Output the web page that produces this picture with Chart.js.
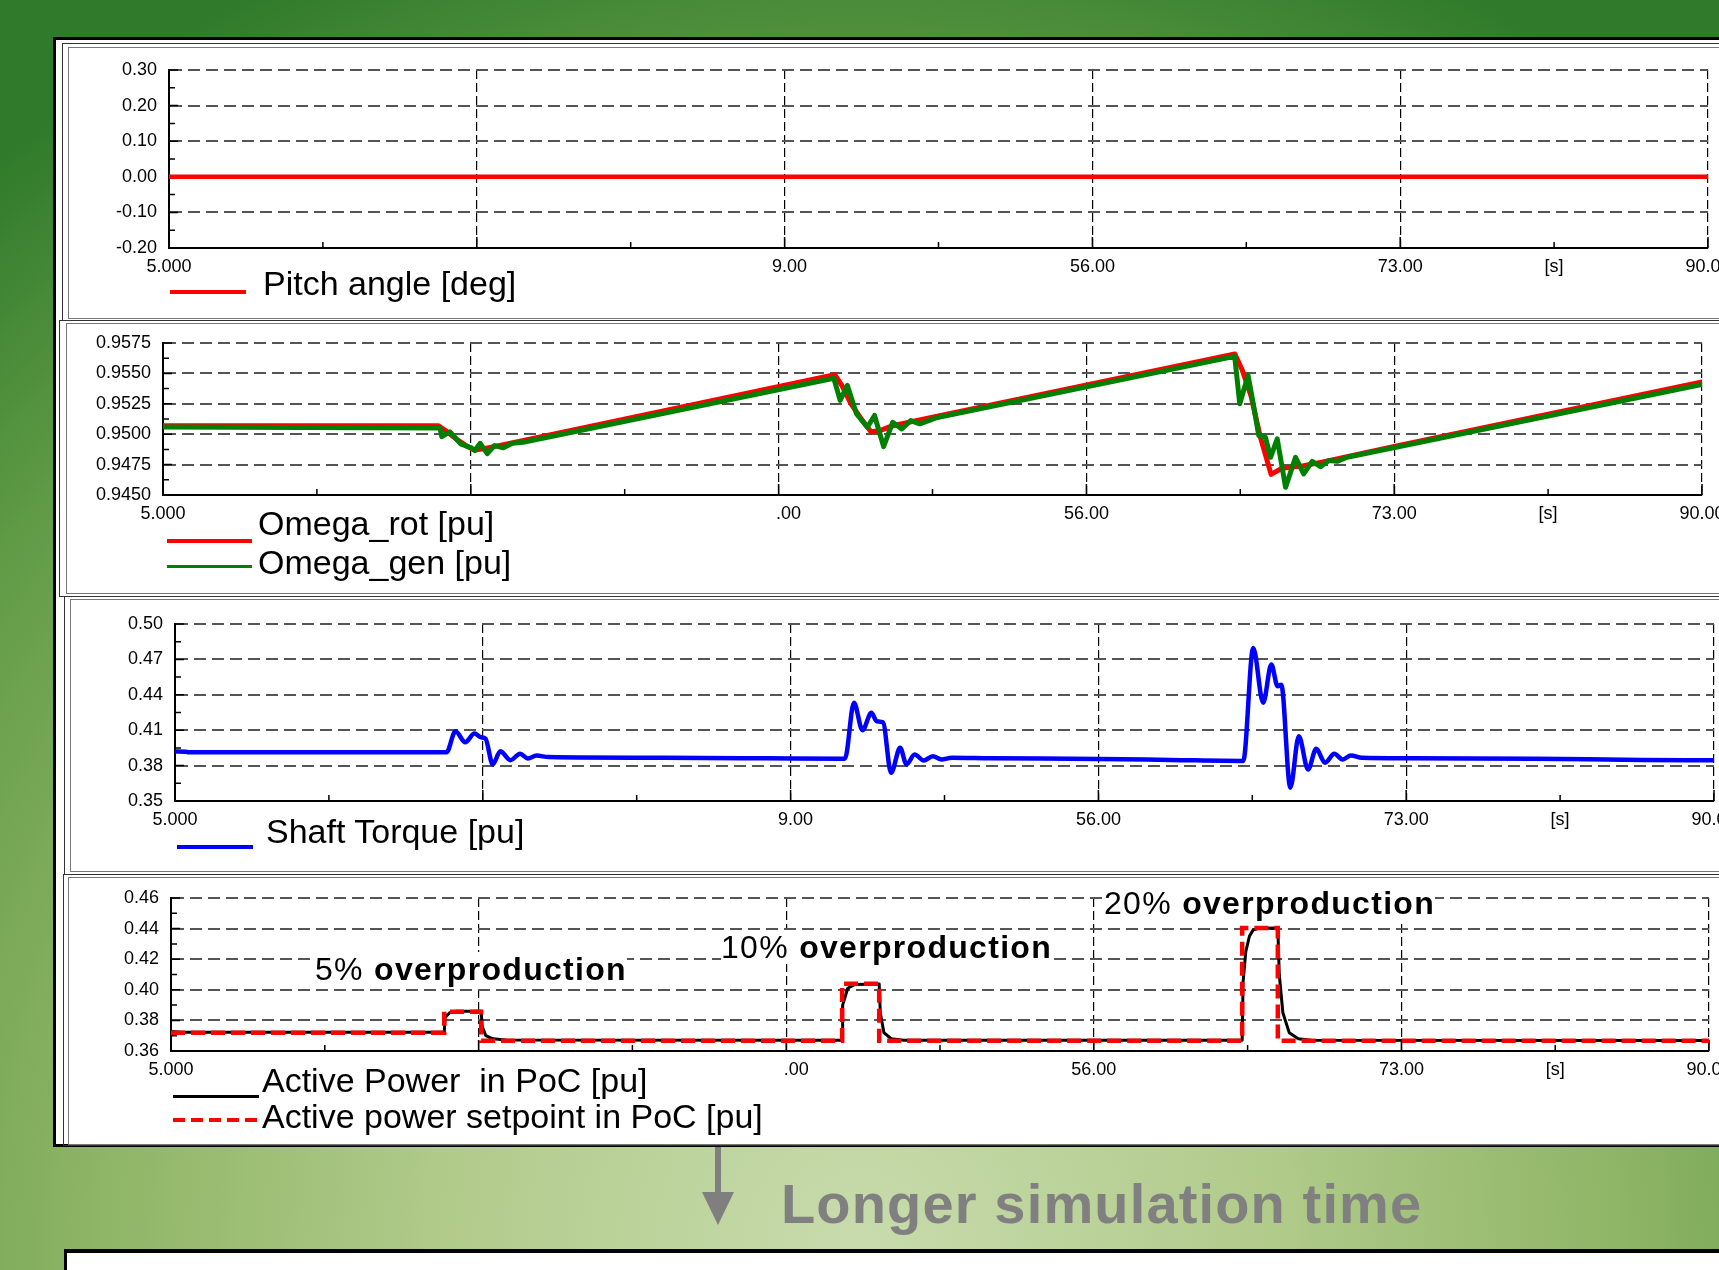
<!DOCTYPE html>
<html>
<head>
<meta charset="utf-8">
<script src="https://cdn.jsdelivr.net/npm/chart.js@4"></script>
<style>
  html, body { margin: 0; padding: 0; }
  body {
    width: 1719px; height: 1270px; overflow: hidden; position: relative;
    background: radial-gradient(ellipse 80% 110% at 50% 98%, #c8dbad 0%, #b1cb8b 30%, #8fb566 55%, #5f9a45 80%, #2f7a2b 100%);
    font-family: 'Liberation Sans', Arial, sans-serif;
  }
  .box { position: absolute; box-sizing: border-box; }
  canvas { position: absolute; left: 0; }
  .leg { position: absolute; font-size: 34px; line-height: 34px; white-space: pre; color: #000; }
  .key { position: absolute; }
  .note { position: absolute; font-size: 32px; line-height: 34px; white-space: pre; background: #fff; letter-spacing: 1.3px; color: #000; }
</style>
</head>
<body>

<!-- slide frame -->
<div class="box" style="left:53px;top:37px;width:1700px;height:1110px;border:3px solid #000;background:#fff"></div>
<div class="box" style="left:62px;top:43px;width:1700px;height:278px;border:1px solid #333"></div>
<div class="box" style="left:68px;top:47px;width:1700px;height:272px;border:1px solid #777"></div>
<div class="box" style="left:59px;top:320px;width:1700px;height:277px;border:1px solid #333"></div>
<div class="box" style="left:66px;top:323px;width:1700px;height:271px;border:1px solid #777"></div>
<div class="box" style="left:64px;top:596px;width:1700px;height:279px;border:1px solid #333"></div>
<div class="box" style="left:70px;top:599px;width:1700px;height:273px;border:1px solid #777"></div>
<div class="box" style="left:63px;top:874px;width:1700px;height:272px;border:1px solid #333"></div>
<div class="box" style="left:68px;top:877px;width:1700px;height:268px;border:1px solid #777"></div>

<canvas id="pitch" width="1719" height="238" style="top:50px"></canvas>
<canvas id="omega" width="1719" height="212" style="top:323px"></canvas>
<canvas id="torque" width="1719" height="237" style="top:604px"></canvas>
<canvas id="power" width="1719" height="213" style="top:878px"></canvas>

<!-- legends -->
<div class="key" style="left:170px;top:290px;width:76px;height:4px;background:#f00"></div>
<div class="leg" style="left:263px;top:266px">Pitch angle [deg]</div>

<div class="key" style="left:167px;top:539px;width:85px;height:4px;background:#f00"></div>
<div class="leg" style="left:258px;top:506px">Omega_rot [pu]</div>
<div class="key" style="left:167px;top:565px;width:85px;height:3px;background:#008000"></div>
<div class="leg" style="left:258px;top:545px">Omega_gen [pu]</div>

<div class="key" style="left:177px;top:845px;width:76px;height:4px;background:#00f"></div>
<div class="leg" style="left:266px;top:814px">Shaft Torque [pu]</div>

<div class="key" style="left:173px;top:1095px;width:86px;height:3px;background:#000"></div>
<div class="leg" style="left:262px;top:1063px">Active Power  in PoC [pu]</div>
<div class="key" style="left:173px;top:1118px;width:87px;height:4px;background:repeating-linear-gradient(90deg,#f00 0 12px,transparent 12px 18px)"></div>
<div class="leg" style="left:262px;top:1099px">Active power setpoint in PoC [pu]</div>

<!-- annotations -->
<div class="note" style="left:315px;top:952px">5% <b>overproduction</b></div>
<div class="note" style="left:721px;top:930px">10% <b>overproduction</b></div>
<div class="note" style="left:1104px;top:886px">20% <b>overproduction</b></div>

<!-- arrow and caption below -->
<div class="box" style="left:715px;top:1147px;width:6px;height:48px;background:#7f7f7f"></div>
<div class="box" style="left:702px;top:1192px;width:0;height:0;border-left:16px solid transparent;border-right:16px solid transparent;border-top:33px solid #7f7f7f"></div>
<div class="leg" style="left:781px;top:1176px;font-size:56px;line-height:56px;font-weight:bold;color:#808080;letter-spacing:1.15px">Longer simulation time</div>
<div class="box" style="left:64px;top:1249px;width:1700px;height:40px;border-top:4px solid #000;border-left:3px solid #000;background:#fff"></div>

<script>
// time axis shared by the four plots [s]
const xTicks = [5, 13.5, 22, 30.5, 39, 47.5, 56, 64.5, 73, 81.5, 90];
const xLabelsA = ['5.000', '', '', '', '  9.00', '', '56.00', '', '73.00', '[s]', '90.00'];
const xLabelsB = ['5.000', '', '', '', '    .00', '', '56.00', '', '73.00', '[s]', '90.00'];

// pitch angle [deg]
const pitchT = [5, 90];
const pitchV = [0, 0];
const pitchTicks = [-0.2, -0.15, -0.1, -0.05, 0, 0.05, 0.1, 0.15, 0.2, 0.25, 0.3];
const pitchLabels = ['-0.20', '', '-0.10', '', '0.00', '', '0.10', '', '0.20', '', '0.30'];

// rotor speed [pu]
const rotT = [5, 20.2, 20.6, 21.2, 21.8, 22.2, 22.7, 23.0, 24.0, 42.1, 42.5, 43.0, 43.5, 44.1, 44.6, 45.3, 47.5,
  64.2, 64.6, 65.1, 65.6, 66.2, 66.8, 68.0, 69.0, 73.0, 90];
const rotV = [0.9507, 0.9507, 0.9503, 0.9496, 0.9490, 0.9487, 0.9488, 0.9489, 0.9492, 0.9549, 0.9540, 0.9525, 0.9514, 0.9502, 0.9503, 0.9507, 0.9514,
  0.9566, 0.9553, 0.9531, 0.9498, 0.9467, 0.9472, 0.9474, 0.9477, 0.9490, 0.9543];

// generator speed [pu]
const genT = [5, 20.3, 20.4, 20.84, 21.44, 22.0, 22.22, 22.52, 22.91, 23.31, 23.8, 24.29, 24.89,
  42.05, 42.4, 42.8, 43.3, 43.9, 44.3, 44.8, 45.3, 45.8, 46.3, 46.8, 47.7,
  64.19, 64.47, 64.93, 65.15, 65.52, 65.89, 66.17, 66.54, 67.0, 67.55, 68.0, 68.47, 68.93, 69.39, 69.85, 70.4, 90];
const genV = [0.9506, 0.9505, 0.9498, 0.9502, 0.9492, 0.9489, 0.94865, 0.94925, 0.9484, 0.94906, 0.94888, 0.94925, 0.94934,
  0.9546, 0.95278, 0.95401, 0.95168, 0.95057, 0.95154, 0.94898, 0.95098, 0.95043, 0.95112, 0.95085, 0.95135,
  0.9564, 0.9525, 0.95484, 0.95305, 0.94989, 0.94975, 0.9481, 0.94961, 0.94563, 0.9481, 0.94673, 0.94777, 0.94733, 0.94783, 0.94777, 0.9481, 0.9541];
const omegaTicks = [0.945, 0.94625, 0.9475, 0.94875, 0.95, 0.95125, 0.9525, 0.95375, 0.955, 0.95625, 0.9575];
const omegaLabels = ['0.9450', '', '0.9475', '', '0.9500', '', '0.9525', '', '0.9550', '', '0.9575'];

// shaft torque [pu]
const torqueT = [5, 5.6, 5.7, 20.0, 20.49, 21.03, 21.54, 21.9, 22.15, 22.55, 22.97, 23.52, 24.06, 24.49, 24.97, 25.63, 32, 37.6, 42.0,
  42.5, 42.97, 43.46, 43.76, 44.1, 44.55, 45.05, 45.4, 45.85, 46.35, 46.85, 47.33, 47.9, 50, 56, 60, 64.0,
  64.55, 65.1, 65.55, 65.9, 66.1, 66.6, 67.07, 67.58, 68.03, 68.52, 69.03, 69.49, 69.94, 70.55, 73, 80, 86, 90];
const torqueV = [0.3920, 0.3918, 0.3914, 0.3914, 0.4091, 0.3998, 0.4072, 0.4040, 0.4028, 0.3810, 0.3922, 0.3846, 0.3900, 0.3860, 0.3885, 0.3872, 0.3866, 0.3862, 0.3858,
  0.4332, 0.4100, 0.4247, 0.4176, 0.4167, 0.3739, 0.3951, 0.3810, 0.3894, 0.3843, 0.3880, 0.3852, 0.3866, 0.3862, 0.3856, 0.3848, 0.3840,
  0.4797, 0.4332, 0.4656, 0.4472, 0.4486, 0.3613, 0.4049, 0.3767, 0.3942, 0.3824, 0.3900, 0.3852, 0.3886, 0.3866, 0.3862, 0.3858, 0.3848, 0.3845];
const torqueTicks = [0.35, 0.365, 0.38, 0.395, 0.41, 0.425, 0.44, 0.455, 0.47, 0.485, 0.5];
const torqueLabels = ['0.35', '', '0.38', '', '0.41', '', '0.44', '', '0.47', '', '0.50'];

// active power in PoC [pu]
const powerT = [5, 5.6, 20.1, 20.15, 20.4, 20.8, 22.14, 22.2, 22.4, 22.8, 23.5, 42.09, 42.12, 42.4, 42.8, 44.14, 44.2, 44.4, 44.8, 45.5,
  64.2, 64.25, 64.4, 64.6, 64.8, 65.1, 66.17, 66.25, 66.45, 66.8, 67.3, 68.0, 90];
const powerV = [0.3728, 0.3722, 0.3722, 0.3820, 0.3850, 0.3860, 0.3860, 0.3760, 0.3700, 0.3680, 0.3672, 0.3670, 0.3900, 0.4010, 0.4035, 0.4038, 0.3850, 0.3720, 0.3680, 0.3670,
  0.3670, 0.4050, 0.4250, 0.4350, 0.4390, 0.4402, 0.4404, 0.4100, 0.3850, 0.3720, 0.3680, 0.3670, 0.3668];

// active power setpoint in PoC [pu]
const setT = [5, 20.1, 20.1, 22.14, 22.14, 42.09, 42.09, 44.14, 44.14, 64.2, 64.2, 66.17, 66.17, 90];
const setV = [0.3720, 0.3720, 0.3857, 0.3857, 0.3667, 0.3667, 0.4039, 0.4039, 0.3667, 0.3667, 0.4404, 0.4404, 0.3667, 0.3667];
const powerTicks = [0.36, 0.37, 0.38, 0.39, 0.40, 0.41, 0.42, 0.43, 0.44, 0.45, 0.46];
const powerLabels = ['0.36', '', '0.38', '', '0.40', '', '0.42', '', '0.44', '', '0.46'];

const font = { family: "'Liberation Sans', Arial, sans-serif", size: 18, lineHeight: 1 };

function pts(T, V) {
  return T.map((t, i) => ({ x: t, y: V[i] }));
}

// short tick marks drawn inside the plot, like the simulation tool does
const tickMarks = {
  id: 'tickMarks',
  beforeDatasetsDraw(chart) {
    const { ctx, chartArea, scales } = chart;
    ctx.save();
    ctx.strokeStyle = '#000';
    ctx.lineWidth = 1.5;
    ctx.beginPath();
    scales.x.ticks.forEach((t, i) => {
      const px = scales.x.getPixelForValue(t.value);
      ctx.moveTo(px, chartArea.bottom);
      ctx.lineTo(px, chartArea.bottom - (i % 2 ? 6 : 11));
    });
    scales.y.ticks.forEach((t, i) => {
      const py = scales.y.getPixelForValue(t.value);
      ctx.moveTo(chartArea.left, py);
      ctx.lineTo(chartArea.left + (i % 2 ? 6 : 9), py);
    });
    ctx.stroke();
    ctx.restore();
  }
};

// left / right = plot edges in page pixels
function makeChart(id, left, right, yTicks, yLabels, xLabels, datasets) {
  const ctx = document.getElementById(id).getContext('2d');
  return new Chart(ctx, {
    type: 'line',
    data: { datasets: datasets },
    options: {
      responsive: false,
      animation: false,
      layout: { padding: { top: 20, right: 1719 - right, left: 0, bottom: 0 } },
      plugins: { legend: { display: false }, tooltip: { enabled: false } },
      elements: {
        point: { radius: 0 },
        line: { tension: 0, borderJoinStyle: 'round', borderCapStyle: 'round' }
      },
      scales: {
        x: {
          type: 'linear', min: 5, max: 90,
          afterBuildTicks: s => { s.ticks = xTicks.map(v => ({ value: v })); },
          afterFit: s => { s.height = 40; s.paddingLeft = 0; s.paddingRight = 0; },
          ticks: { autoSkip: false, maxRotation: 0, padding: 10, color: '#000', font: font,
            callback: (v, i) => xLabels[i] },
          grid: { color: c => (c.index % 2 ? 'transparent' : '#000'), lineWidth: 1.2, drawTicks: false },
          border: { color: '#000', width: 2, dash: [9, 4] }
        },
        y: {
          type: 'linear', min: yTicks[0], max: yTicks[yTicks.length - 1],
          afterBuildTicks: s => { s.ticks = yTicks.map(v => ({ value: v })); },
          afterFit: s => { s.width = left; s.paddingTop = 0; s.paddingBottom = 0; },
          ticks: { autoSkip: false, padding: 12, color: '#000', font: font,
            callback: (v, i) => yLabels[i] },
          grid: { color: c => (c.index % 2 ? 'transparent' : '#555'), lineWidth: 2, drawTicks: false },
          border: { color: '#000', width: 2, dash: [12, 6] }
        }
      }
    },
    plugins: [tickMarks]
  });
}

makeChart('pitch', 169, 1708, pitchTicks, pitchLabels, xLabelsA, [
  { data: pts(pitchT, pitchV), borderColor: '#ff0000', borderWidth: 4.5 }
]);

makeChart('omega', 163, 1702, omegaTicks, omegaLabels, xLabelsB, [
  { data: pts(genT, genV), borderColor: '#008000', borderWidth: 5 },
  { data: pts(rotT, rotV), borderColor: '#ff0000', borderWidth: 5 }
]);

makeChart('torque', 175, 1714, torqueTicks, torqueLabels, xLabelsA, [
  { data: pts(torqueT, torqueV), borderColor: '#0000ff', borderWidth: 4.5, cubicInterpolationMode: 'monotone' }
]);

makeChart('power', 171, 1709, powerTicks, powerLabels, xLabelsB, [
  { data: pts(setT, setV), borderColor: '#ff0000', borderWidth: 4.5, borderDash: [14, 6], borderCapStyle: 'butt', borderJoinStyle: 'miter' },
  { data: pts(powerT, powerV), borderColor: '#000', borderWidth: 3 }
]);
</script>
</body>
</html>
